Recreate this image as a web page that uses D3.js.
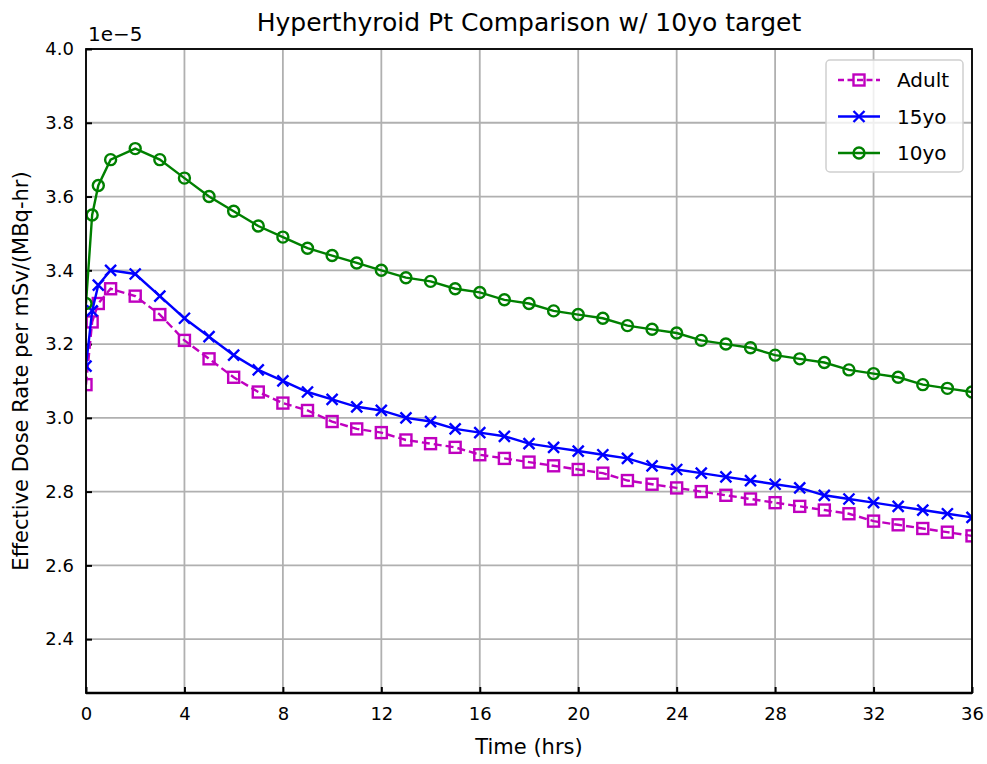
<!DOCTYPE html>
<html>
<head>
<meta charset="utf-8">
<script src="https://cdn.jsdelivr.net/npm/d3@7"></script>
<style>
  body { margin: 0; background: #fff; }
  text { font-family: "DejaVu Sans", sans-serif; fill: #000; }
</style>
</head>
<body>
<div id="chart"></div>
<script>
// time points (hrs)
var times = [0, 0.25, 0.5, 1, 2, 3, 4, 5, 6, 7, 8, 9, 10, 11, 12, 13, 14, 15, 16, 17, 18,
  19, 20, 21, 22, 23, 24, 25, 26, 27, 28, 29, 30, 31, 32, 33, 34, 35, 36];

// effective dose rate, x1e-5 mSv/(MBq-hr)
var adult = [3.09, 3.26, 3.31, 3.35, 3.33, 3.28, 3.21, 3.16, 3.11, 3.07, 3.04, 3.02, 2.99, 2.97,
  2.96, 2.94, 2.93, 2.92, 2.90, 2.89, 2.88, 2.87, 2.86, 2.85, 2.83, 2.82, 2.81, 2.80, 2.79,
  2.78, 2.77, 2.76, 2.75, 2.74, 2.72, 2.71, 2.70, 2.69, 2.68];
var yo15 = [3.14, 3.29, 3.36, 3.40, 3.39, 3.33, 3.27, 3.22, 3.17, 3.13, 3.10, 3.07, 3.05, 3.03,
  3.02, 3.00, 2.99, 2.97, 2.96, 2.95, 2.93, 2.92, 2.91, 2.90, 2.89, 2.87, 2.86, 2.85, 2.84,
  2.83, 2.82, 2.81, 2.79, 2.78, 2.77, 2.76, 2.75, 2.74, 2.73];
var yo10 = [3.31, 3.55, 3.63, 3.70, 3.73, 3.70, 3.65, 3.60, 3.56, 3.52, 3.49, 3.46, 3.44, 3.42,
  3.40, 3.38, 3.37, 3.35, 3.34, 3.32, 3.31, 3.29, 3.28, 3.27, 3.25, 3.24, 3.23, 3.21, 3.20,
  3.19, 3.17, 3.16, 3.15, 3.13, 3.12, 3.11, 3.09, 3.08, 3.07];

var xTicks = [0, 4, 8, 12, 16, 20, 24, 28, 32, 36];
var yTicks = [2.4, 2.6, 2.8, 3.0, 3.2, 3.4, 3.6, 3.8, 4.0];
var seriesNames = ["Adult", "15yo", "10yo"];

var w = 987, h = 764;
var pLeft = 86, pRight = 972, pTop = 49, pBottom = 693;

var series = [
  { name: seriesNames[0], values: adult, color: "#bf00bf", marker: "square", dash: "8,4" },
  { name: seriesNames[1], values: yo15, color: "#0000ff", marker: "x", dash: null },
  { name: seriesNames[2], values: yo10, color: "#008000", marker: "circle", dash: null }
];

var svg = d3.select("#chart").append("svg")
  .attr("width", w)
  .attr("height", h);

var xScale = d3.scaleLinear().domain([0, 36]).range([pLeft, pRight]);
var yScale = d3.scaleLinear().domain([2.254, 4.0]).range([pBottom, pTop]);

// grid
svg.append("g")
  .selectAll("line")
  .data(xTicks)
  .enter()
  .append("line")
  .attr("x1", (d) => xScale(d)).attr("x2", (d) => xScale(d))
  .attr("y1", pTop).attr("y2", pBottom)
  .attr("stroke", "#b0b0b0").attr("stroke-width", 1.8);
svg.append("g")
  .selectAll("line")
  .data(yTicks)
  .enter()
  .append("line")
  .attr("x1", pLeft).attr("x2", pRight)
  .attr("y1", (d) => yScale(d)).attr("y2", (d) => yScale(d))
  .attr("stroke", "#b0b0b0").attr("stroke-width", 1.8);

// axes, ticks pointing in
var xAxis = d3.axisBottom(xScale).tickValues(xTicks).tickSize(-6).tickPadding(14)
  .tickFormat(d3.format("d"));
var yAxis = d3.axisLeft(yScale).tickValues(yTicks).tickSize(-6).tickPadding(12)
  .tickFormat(d3.format(".1f"));

var gx = svg.append("g")
  .attr("transform", "translate(0," + pBottom + ")")
  .call(xAxis);
var gy = svg.append("g")
  .attr("transform", "translate(" + pLeft + ",0)")
  .call(yAxis);
[gx, gy].forEach(function(g) {
  g.attr("font-family", "DejaVu Sans");
  g.select(".domain").remove();
  g.selectAll(".tick line").attr("stroke", "#000").attr("stroke-width", 2);
  g.selectAll(".tick text").attr("font-size", 18);
});

// data
svg.append("clipPath").attr("id", "plotclip")
  .append("rect").attr("x", pLeft).attr("y", pTop)
  .attr("width", pRight - pLeft).attr("height", pBottom - pTop);

var line = d3.line()
  .x((d, i) => xScale(times[i]))
  .y((d) => yScale(d));

function drawMarker(g, type, color, cx, cy) {
  if (type === "square") {
    g.append("rect")
      .attr("x", cx - 5.5).attr("y", cy - 5.5)
      .attr("width", 11).attr("height", 11)
      .attr("fill", "none").attr("stroke", color).attr("stroke-width", 2.4);
  } else if (type === "circle") {
    g.append("circle")
      .attr("cx", cx).attr("cy", cy).attr("r", 5.5)
      .attr("fill", "none").attr("stroke", color).attr("stroke-width", 2.4);
  } else {
    g.append("path")
      .attr("d", "M" + (cx - 5.5) + "," + (cy - 5.5) + "L" + (cx + 5.5) + "," + (cy + 5.5) +
        "M" + (cx - 5.5) + "," + (cy + 5.5) + "L" + (cx + 5.5) + "," + (cy - 5.5))
      .attr("stroke", color).attr("stroke-width", 2.4);
  }
}

var plot = svg.append("g").attr("clip-path", "url(#plotclip)");
series.forEach(function(s) {
  var g = plot.append("g");
  g.append("path")
    .datum(s.values)
    .attr("d", line)
    .attr("fill", "none")
    .attr("stroke", s.color)
    .attr("stroke-width", 2.4)
    .attr("stroke-dasharray", s.dash);
  s.values.forEach(function(v, i) {
    drawMarker(g, s.marker, s.color, xScale(times[i]), yScale(v));
  });
});

// frame
svg.append("rect")
  .attr("x", pLeft).attr("y", pTop)
  .attr("width", pRight - pLeft).attr("height", pBottom - pTop)
  .attr("fill", "none").attr("stroke", "#000").attr("stroke-width", 1.8);
svg.append("line")
  .attr("x1", pLeft).attr("x2", pRight).attr("y1", pBottom).attr("y2", pBottom)
  .attr("stroke", "#000").attr("stroke-width", 2.6);

// legend
var lg = svg.append("g").attr("transform", "translate(826,60)");
lg.append("rect")
  .attr("width", 137).attr("height", 112).attr("rx", 4)
  .attr("fill", "rgba(255,255,255,0.8)").attr("stroke", "#d0d0d0").attr("stroke-width", 1.5);
series.forEach(function(s, i) {
  var yy = 20 + i * 36.5;
  lg.append("line")
    .attr("x1", 12).attr("x2", 54).attr("y1", yy).attr("y2", yy)
    .attr("stroke", s.color).attr("stroke-width", 2.4)
    .attr("stroke-dasharray", s.dash ? "6,3.5" : null);
  drawMarker(lg, s.marker, s.color, 33, yy);
  lg.append("text")
    .attr("x", 71).attr("y", yy + 7)
    .attr("font-size", 20)
    .text(s.name);
});

// labels
svg.append("text")
  .attr("x", (pLeft + pRight) / 2).attr("y", 31)
  .attr("text-anchor", "middle").attr("font-size", 25)
  .text("Hyperthyroid Pt Comparison w/ 10yo target");
svg.append("text")
  .attr("x", 88).attr("y", 41)
  .attr("font-size", 20)
  .text("1e\u22125");
svg.append("text")
  .attr("x", (pLeft + pRight) / 2).attr("y", 754)
  .attr("text-anchor", "middle").attr("font-size", 21)
  .text("Time (hrs)");
svg.append("text")
  .attr("transform", "translate(28," + ((pTop + pBottom) / 2) + ") rotate(-90)")
  .attr("text-anchor", "middle").attr("font-size", 21)
  .text("Effective Dose Rate per mSv/(MBq-hr)");
</script>
</body>
</html>
